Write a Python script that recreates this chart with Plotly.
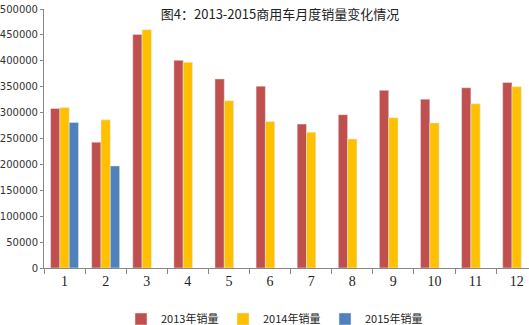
import plotly.graph_objects as go

months = ["1", "2", "3", "4", "5", "6", "7", "8", "9", "10", "11", "12"]
sales_2013 = [308000, 243000, 451000, 401000, 365000, 351000, 278000, 296000, 343000, 326000, 348000, 358000]
sales_2014 = [310000, 286000, 460000, 397000, 323000, 283000, 262000, 249000, 290000, 280000, 317000, 350000]
months_2015 = ["1", "2"]
sales_2015 = [281000, 197000]

fig = go.Figure()
fig.add_trace(go.Bar(name="2013年销量", x=months, y=sales_2013, marker_color="#C0504D"))
fig.add_trace(go.Bar(name="2014年销量", x=months, y=sales_2014, marker_color="#FFC000"))
fig.add_trace(go.Bar(name="2015年销量", x=months_2015, y=sales_2015, marker_color="#4F81BD"))

fig.update_layout(
    width=529, height=325,
    margin=dict(l=44, r=0, t=9, b=57),
    paper_bgcolor="white", plot_bgcolor="white",
    barmode="group", bargap=0.32, bargroupgap=0,
    title=dict(text="图4：2013-2015商用车月度销量变化情况", x=280/529, xanchor="center",
               y=1 - 14/325, yanchor="middle",
               font=dict(family="Noto Sans CJK SC", size=13, color="#222")),
    legend=dict(orientation="h", x=121/529, xanchor="left", xref="container",
                y=1 - 319/325, yanchor="middle", yref="container",
                entrywidth=57, itemwidth=30,
                font=dict(family="Noto Sans CJK SC", size=11, color="#222")),
    showlegend=True,
)
fig.update_xaxes(
    type="category", categoryorder="array", categoryarray=months,
    range=[-0.5, 11.3],
    showline=True, linecolor="#888", linewidth=1,
    ticks="outside", tickson="boundaries", ticklen=5, tickcolor="#888",
    tickfont=dict(family="Liberation Serif", size=14, color="#222"),
    showgrid=False, fixedrange=True,
)
fig.update_yaxes(
    range=[0, 500000], tickvals=[0, 50000, 100000, 150000, 200000, 250000, 300000, 350000, 400000, 450000, 500000],
    ticktext=["0", "50000", "100000", "150000", "200000", "250000", "300000", "350000", "400000", "450000", "500000"],
    showline=True, linecolor="#888", linewidth=1,
    ticks="outside", ticklen=3, tickcolor="#888",
    tickfont=dict(family="DejaVu Sans", size=10, color="#333"),
    showgrid=False, zeroline=False,
)

fig.write_html("out.html")
